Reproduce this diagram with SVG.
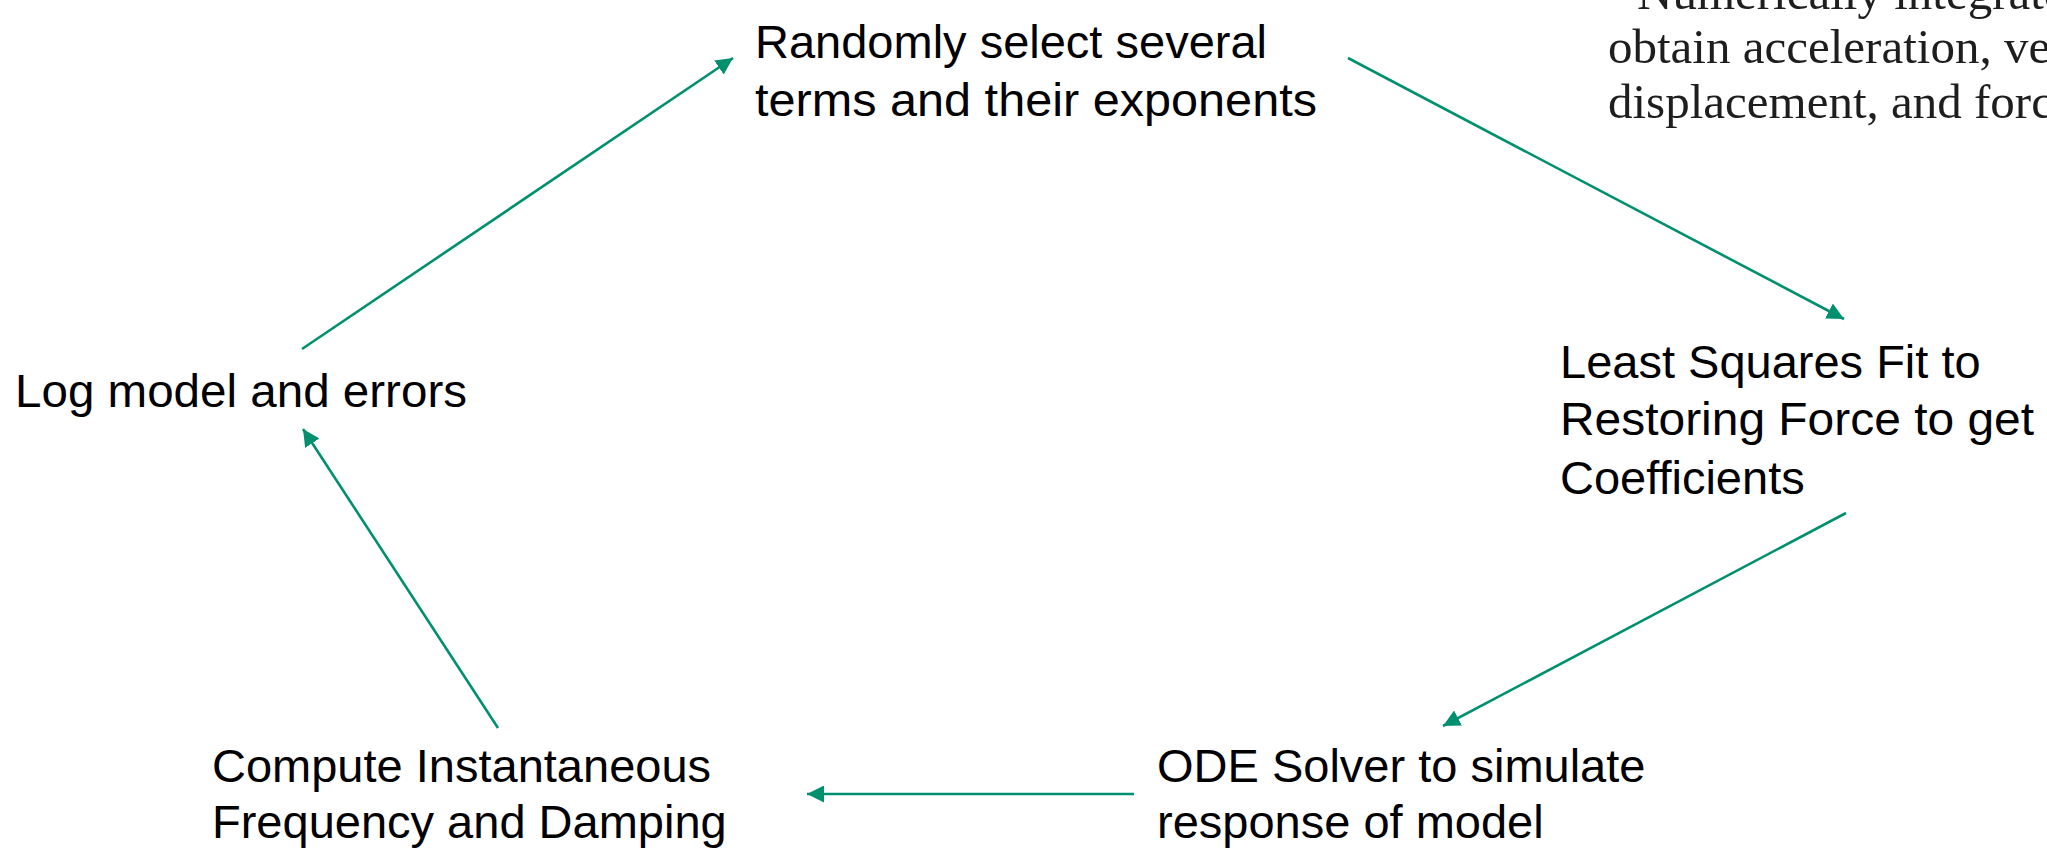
<svg xmlns="http://www.w3.org/2000/svg" width="2047" height="850" viewBox="0 0 2047 850">
<style>
.lbl{font-family:"Liberation Sans",Arial,sans-serif;font-size:47px;fill:#000}
.ser{font-family:"Liberation Serif","Times New Roman",serif;font-size:49px;fill:#1e1e1e}
.conn{stroke:#00906F;stroke-width:2.6;fill:none}
</style>
<defs>
<marker id="ah" markerUnits="userSpaceOnUse" markerWidth="17" markerHeight="17" refX="16" refY="8" orient="auto" viewBox="0 0 16 16">
<path d="M0,0 L16,8 L0,16 z" fill="#00906F"/>
</marker>
</defs>
<rect width="2047" height="850" fill="#fff"/>
<g id="bg-text">
<text class="ser" x="1637" y="9">Numerically integrate</text>
<text class="ser" x="1608" y="63">obtain acceleration, ve</text>
<text class="ser" x="1608" y="118">displacement, and forc</text>
</g>
<g id="node-random">
<text class="lbl" x="755" y="58">Randomly select several</text>
<text class="lbl" x="755" y="116" textLength="562" lengthAdjust="spacingAndGlyphs">terms and their exponents</text>
</g>
<g id="node-lsq">
<text class="lbl" x="1560" y="378">Least Squares Fit to</text>
<text class="lbl" x="1560" y="435" textLength="474" lengthAdjust="spacingAndGlyphs">Restoring Force to get</text>
<text class="lbl" x="1560" y="494">Coefficients</text>
</g>
<g id="node-ode">
<text class="lbl" x="1157" y="782">ODE Solver to simulate</text>
<text class="lbl" x="1157" y="838">response of model</text>
</g>
<g id="node-compute">
<text class="lbl" x="212" y="782">Compute Instantaneous</text>
<text class="lbl" x="212" y="838">Frequency and Damping</text>
</g>
<g id="node-log">
<text class="lbl" x="15" y="407" textLength="452" lengthAdjust="spacingAndGlyphs">Log model and errors</text>
</g>
<g id="connectors">
<line class="conn" x1="302" y1="349" x2="733" y2="58" marker-end="url(#ah)"/>
<line class="conn" x1="1348" y1="58" x2="1844" y2="319" marker-end="url(#ah)"/>
<line class="conn" x1="1846" y1="513" x2="1443" y2="726" marker-end="url(#ah)"/>
<line class="conn" x1="1134" y1="794" x2="807" y2="794" marker-end="url(#ah)"/>
<line class="conn" x1="498" y1="728" x2="303" y2="429" marker-end="url(#ah)"/>
</g>
</svg>
